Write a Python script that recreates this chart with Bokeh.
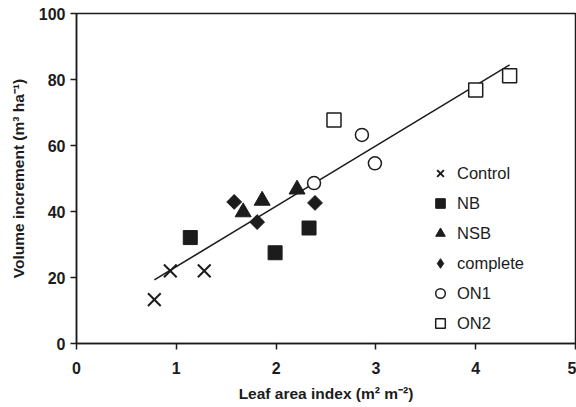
import math
from bokeh.plotting import figure
from bokeh.models import Range1d, Legend, LegendItem, FixedTicker
from bokeh.embed import file_html
from bokeh.resources import INLINE

# Data
control_x = [0.78, 0.94, 1.28]
control_y = [13.3, 22.0, 22.0]
nb_x = [1.14, 1.99, 2.33]
nb_y = [32.1, 27.5, 35.0]
nsb_x = [1.67, 1.86, 2.21]
nsb_y = [39.8, 43.3, 46.7]
complete_x = [1.58, 1.81, 2.39]
complete_y = [42.9, 36.8, 42.6]
on1_x = [2.38, 2.86, 2.99]
on1_y = [48.6, 63.2, 54.6]
on2_x = [2.58, 4.00, 4.34]
on2_y = [67.7, 76.8, 81.1]
fit_slope = 18.3
fit_intercept = 5.0

x_ticks = [0, 1, 2, 3, 4, 5]
y_ticks = [0, 20, 40, 60, 80, 100]

FONT = "Liberation Sans"
INK = "#1c1c1c"

p = figure(width=576, height=407, output_backend="svg", toolbar_location=None,
           x_range=Range1d(0, 5), y_range=Range1d(0, 100),
           min_border_left=76, min_border_right=1, min_border_top=13, min_border_bottom=64)
p.background_fill_color = "white"
p.border_fill_color = "white"
p.outline_line_color = INK
p.outline_line_width = 1.5
p.xgrid.visible = False
p.ygrid.visible = False

for ax, ticks in ((p.xaxis[0], x_ticks), (p.yaxis[0], y_ticks)):
    ax.ticker = FixedTicker(ticks=ticks)
    ax.axis_line_color = INK
    ax.axis_line_width = 1.5
    ax.major_tick_line_color = INK
    ax.major_tick_line_width = 1.5
    ax.major_tick_in = 0
    ax.major_tick_out = 6
    ax.minor_tick_line_color = None
    ax.major_label_text_font = FONT
    ax.major_label_text_font_style = "bold"
    ax.major_label_text_font_size = "16px"
    ax.major_label_text_color = INK
    ax.axis_label_text_font = FONT
    ax.axis_label_text_font_style = "bold"
    ax.axis_label_text_font_size = "15.5px"
    ax.axis_label_text_color = INK

p.xaxis.axis_label = "Leaf area index (m² m⁻²)"
p.yaxis.axis_label = "Volume increment (m³ ha⁻¹)"
p.xaxis.major_label_standoff = 12
p.yaxis.major_label_standoff = 5
p.xaxis.axis_label_standoff = 8
p.yaxis.axis_label_standoff = 9

# regression line over the data range
all_x = control_x + nb_x + nsb_x + complete_x + on1_x + on2_x
lx = [min(all_x), max(all_x)]
ly = [fit_intercept + fit_slope * v for v in lx]
p.line(lx, ly, line_color=INK, line_width=1.6)

r_control = p.scatter(control_x, control_y, marker="x", size=18, line_color=INK, line_width=2)
r_nb = p.scatter(nb_x, nb_y, marker="square", size=14, fill_color=INK, line_color=INK)
r_nsb = p.scatter(nsb_x, nsb_y, marker="triangle", size=16, fill_color=INK, line_color=INK)
# diamond renderer (used for the legend key), covered by 45-degree squares
r_complete = p.scatter(complete_x, complete_y, marker="diamond", size=13, fill_color=INK, line_color=INK)
p.scatter(complete_x, complete_y, marker="square", angle=math.pi / 4, size=10.5,
          fill_color=INK, line_color=INK)
r_on1 = p.scatter(on1_x, on1_y, marker="circle", size=13, fill_color="white", line_color=INK, line_width=1.5)
r_on2 = p.scatter(on2_x, on2_y, marker="square", size=14, fill_color="white", line_color=INK, line_width=1.5)

legend = Legend(items=[
    LegendItem(label="Control", renderers=[r_control]),
    LegendItem(label="NB", renderers=[r_nb]),
    LegendItem(label="NSB", renderers=[r_nsb]),
    LegendItem(label="complete", renderers=[r_complete]),
    LegendItem(label="ON1", renderers=[r_on1]),
    LegendItem(label="ON2", renderers=[r_on2]),
], location=(352, 8))
legend.border_line_color = None
legend.background_fill_alpha = 0
legend.padding = 0
legend.margin = 0
legend.spacing = 6
legend.glyph_width = 24
legend.glyph_height = 24
legend.label_height = 24
legend.label_standoff = 5
legend.label_text_font = FONT
legend.label_text_font_size = "16.5px"
legend.label_text_color = INK
p.add_layout(legend, "center")

open("out.html", "w").write(file_html(p, INLINE))
